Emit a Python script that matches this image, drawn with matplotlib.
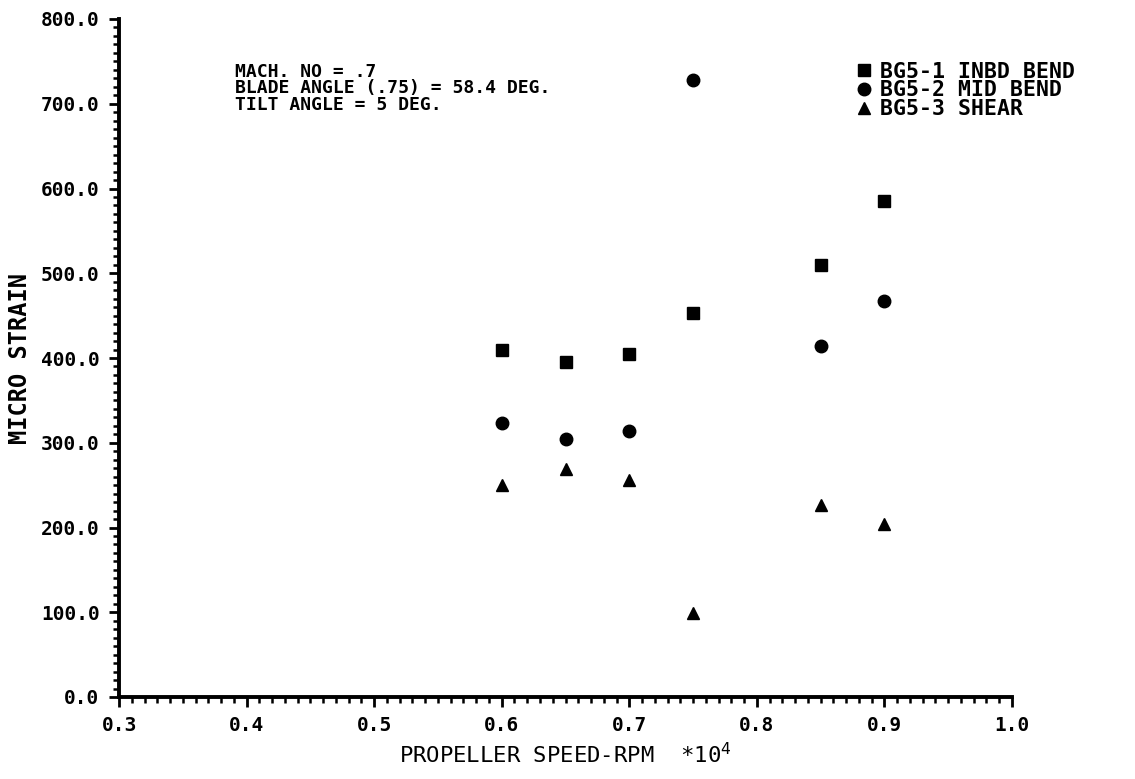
import matplotlib

matplotlib.use("Agg")

import matplotlib.pyplot as plt
from matplotlib.ticker import MultipleLocator

# propeller speed (x 10^4 rpm) and measured micro strain per gauge
rpm = [0.60, 0.65, 0.70, 0.75, 0.85, 0.90]
inbd_bend = [409, 395, 405, 453, 510, 585]
mid_bend = [323, 304, 314, 728, 414, 467]
shear = [250, 269, 256, 99, 227, 204]

series_labels = ["BG5-1 INBD BEND", "BG5-2 MID BEND", "BG5-3 SHEAR"]
notes = ["MACH. NO = .7", "BLADE ANGLE (.75) = 58.4 DEG.", "TILT ANGLE = 5 DEG."]

x_ticks = [0.3, 0.4, 0.5, 0.6, 0.7, 0.8, 0.9, 1.0]
y_ticks = [0, 100, 200, 300, 400, 500, 600, 700, 800]

MONO = "DejaVu Sans Mono"
MS = 9

fig = plt.figure(figsize=(11.35, 7.79), dpi=100)
ax = fig.add_axes([119 / 1135, 82 / 779, 893 / 1135, 678 / 779])

ax.plot(rpm, inbd_bend, linestyle="none", marker="s", markersize=MS, color="black")
ax.plot(rpm, mid_bend, linestyle="none", marker="o", markersize=MS, color="black")
ax.plot(rpm, shear, linestyle="none", marker="^", markersize=MS, color="black")

ax.set_xlim(0.3, 1.0)
ax.set_ylim(0, 800)
ax.set_xticks(x_ticks)
ax.set_xticklabels([f"{v:.1f}" for v in x_ticks])
ax.set_yticks(y_ticks)
ax.set_yticklabels([f"{v:.1f}" for v in y_ticks])
ax.xaxis.set_minor_locator(MultipleLocator(0.01))
ax.yaxis.set_minor_locator(MultipleLocator(10))

for side in ("top", "right"):
    ax.spines[side].set_visible(False)
for side in ("left", "bottom"):
    ax.spines[side].set_linewidth(2.8)

ax.tick_params(which="major", direction="out", length=7, width=2, pad=7)
ax.tick_params(which="minor", direction="out", length=4, width=1.8)
for lab in ax.get_xticklabels() + ax.get_yticklabels():
    lab.set_fontfamily(MONO)
    lab.set_fontweight("bold")
    lab.set_fontsize(14)

ax.set_xlabel(r"PROPELLER SPEED-RPM  *10$^{4}$", fontfamily=MONO, fontsize=16, labelpad=5)
ax.set_ylabel("MICRO STRAIN", fontfamily=MONO, fontsize=17, fontweight="bold", labelpad=6)

ax.text(0.13, 0.935, "\n".join(notes), transform=ax.transAxes, fontfamily=MONO,
        fontweight="bold", fontsize=13, va="top", ha="left", linespacing=0.88)

handles = [
    plt.Line2D([], [], linestyle="none", marker="s", markersize=MS, color="black"),
    plt.Line2D([], [], linestyle="none", marker="o", markersize=MS, color="black"),
    plt.Line2D([], [], linestyle="none", marker="^", markersize=MS, color="black"),
]
ax.legend(handles, series_labels, loc="upper left", bbox_to_anchor=(0.815, 0.95),
          frameon=False, handletextpad=0.35, labelspacing=-0.05, borderaxespad=0,
          handlelength=0.8, prop={"family": MONO, "size": 15.5, "weight": "bold"})

fig.savefig("out.png", dpi=100)
